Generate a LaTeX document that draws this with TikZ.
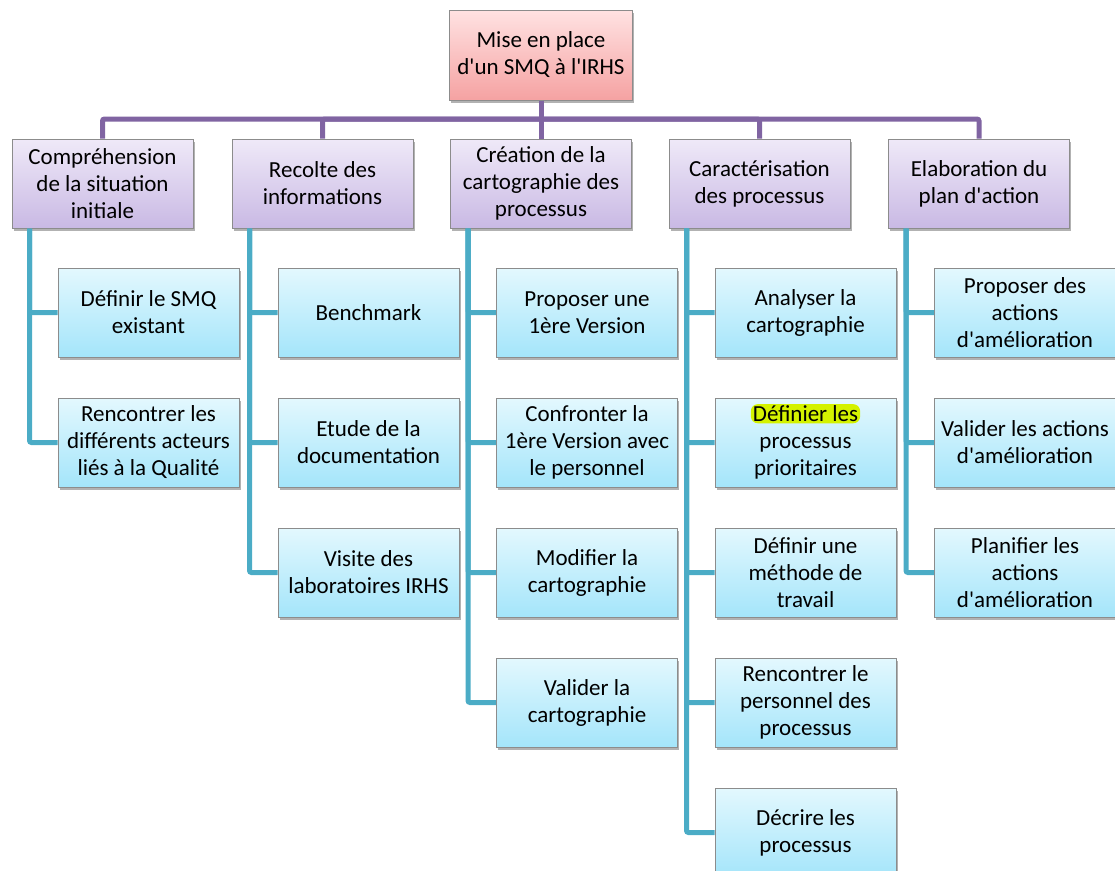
\documentclass[tikz,border=0pt]{standalone}
\usepackage{fontspec}
\setmainfont{Carlito}[Ligatures=TeXOff]
\usetikzlibrary{positioning,shadows}
\definecolor{smqpurple}{RGB}{128,100,162}
\definecolor{smqblue}{RGB}{75,172,198}
\definecolor{roottop}{RGB}{255,226,226}
\definecolor{rootbot}{RGB}{245,162,162}
\definecolor{phasetop}{RGB}{239,233,248}
\definecolor{phasebot}{RGB}{201,185,228}
\definecolor{tasktop}{RGB}{227,248,254}
\definecolor{taskbot}{RGB}{164,229,250}
\definecolor{boxedge}{RGB}{140,140,140}
\definecolor{hlyellow}{RGB}{212,242,0}
\tikzset{
    box/.style={rectangle, draw=boxedge, line width=1pt, minimum width=181pt, minimum height=89pt, align=center, inner xsep=1pt, font=\fontsize{23}{27}\selectfont, drop shadow={shadow xshift=1.5pt, shadow yshift=-3pt, opacity=0.3, fill=black}},
    root/.style={box, minimum width=183pt, minimum height=90pt, top color=roottop, bottom color=rootbot},
    phase/.style={box, top color=phasetop, bottom color=phasebot},
    task/.style={box, top color=tasktop, bottom color=taskbot},
    tree/.style={draw=smqpurple, line width=5pt, rounded corners=2pt},
    branch/.style={draw=smqblue, line width=5pt, rounded corners=2pt},
    hlbox/.style={fill=hlyellow, rounded corners=7pt, inner xsep=2pt, inner ysep=1.5pt, font=\fontsize{23}{27}\selectfont}
}
\begin{document}
\begin{tikzpicture}[x=1pt, y=-1pt]
    \useasboundingbox (0,0) rectangle (1115,870);

    % Root
    \node [root] (smq) at (541,55) {Mise en place\\d'un SMQ à l'IRHS};

    % Phases
    \node [phase] (comprehension) at (102.5,183.5) {Compréhension\\de la situation\\initiale};
    \node [phase] (recolte) at (322.5,183.5) {Recolte des\\informations};
    \node [phase] (creation) at (541,183.5) {Création de la\\cartographie des\\processus};
    \node [phase] (caracterisation) at (759.5,183.5) {Caractérisation\\des processus};
    \node [phase] (elaboration) at (979,183.5) {Elaboration du\\plan d'action};

    % Tasks under each phase
    \node [task] (definir) at ([shift={(46,129)}]comprehension) {Définir le SMQ\\existant};
    \node [task, below=40pt of definir] (rencontrer) {Rencontrer les\\différents acteurs\\liés à la Qualité};

    \node [task] (benchmark) at ([shift={(46,129)}]recolte) {Benchmark};
    \node [task, below=40pt of benchmark] (etude) {Etude de la\\documentation};
    \node [task, below=40pt of etude] (visite) {Visite des\\laboratoires IRHS};

    \node [task] (proposer) at ([shift={(46,129)}]creation) {Proposer une\\1ère Version};
    \node [task, below=40pt of proposer] (confronter) {Confronter la\\1ère Version avec\\le personnel};
    \node [task, below=40pt of confronter] (modifier) {Modifier la\\cartographie};
    \node [task, below=40pt of modifier] (valider) {Valider la\\cartographie};

    \node [task] (analyser) at ([shift={(46,129)}]caracterisation) {Analyser la\\cartographie};
    \node [task, below=40pt of analyser] (prioritaires) {Définier les\\processus\\prioritaires};
    \node [task, below=40pt of prioritaires] (methode) {Définir une\\méthode de\\travail};
    \node [task, below=40pt of methode] (personnel) {Rencontrer le\\personnel des\\processus};
    \node [task, below=40pt of personnel] (decrire) {Décrire les\\processus};

    \node [task] (actions) at ([shift={(46,129)}]elaboration) {Proposer des\\actions\\d'amélioration};
    \node [task, below=40pt of actions] (validactions) {Valider les actions\\d'amélioration};
    \node [task, below=40pt of validactions] (planifier) {Planifier les\\actions\\d'amélioration};

    % Highlighted words (first line of the node)
    \node [hlbox, anchor=base] (hl) at ([yshift=54pt]prioritaires.base) {Définier les};

    % Purple tree
    \coordinate (bar) at (541,119);
    \draw [tree] (smq) -- (bar);
    \foreach \p in {comprehension,recolte,creation,caracterisation,elaboration}
        \draw [tree] (bar) -| (\p.north);

    % Blue branches
    \foreach \t in {definir,rencontrer}
        \draw [branch] ([xshift=18pt]comprehension.south west) |- (\t.west);
    \foreach \t in {benchmark,etude,visite}
        \draw [branch] ([xshift=18pt]recolte.south west) |- (\t.west);
    \foreach \t in {proposer,confronter,modifier,valider}
        \draw [branch] ([xshift=18pt]creation.south west) |- (\t.west);
    \foreach \t in {analyser,prioritaires,methode,personnel,decrire}
        \draw [branch] ([xshift=18pt]caracterisation.south west) |- (\t.west);
    \foreach \t in {actions,validactions,planifier}
        \draw [branch] ([xshift=18pt]elaboration.south west) |- (\t.west);
\end{tikzpicture}
\end{document}
